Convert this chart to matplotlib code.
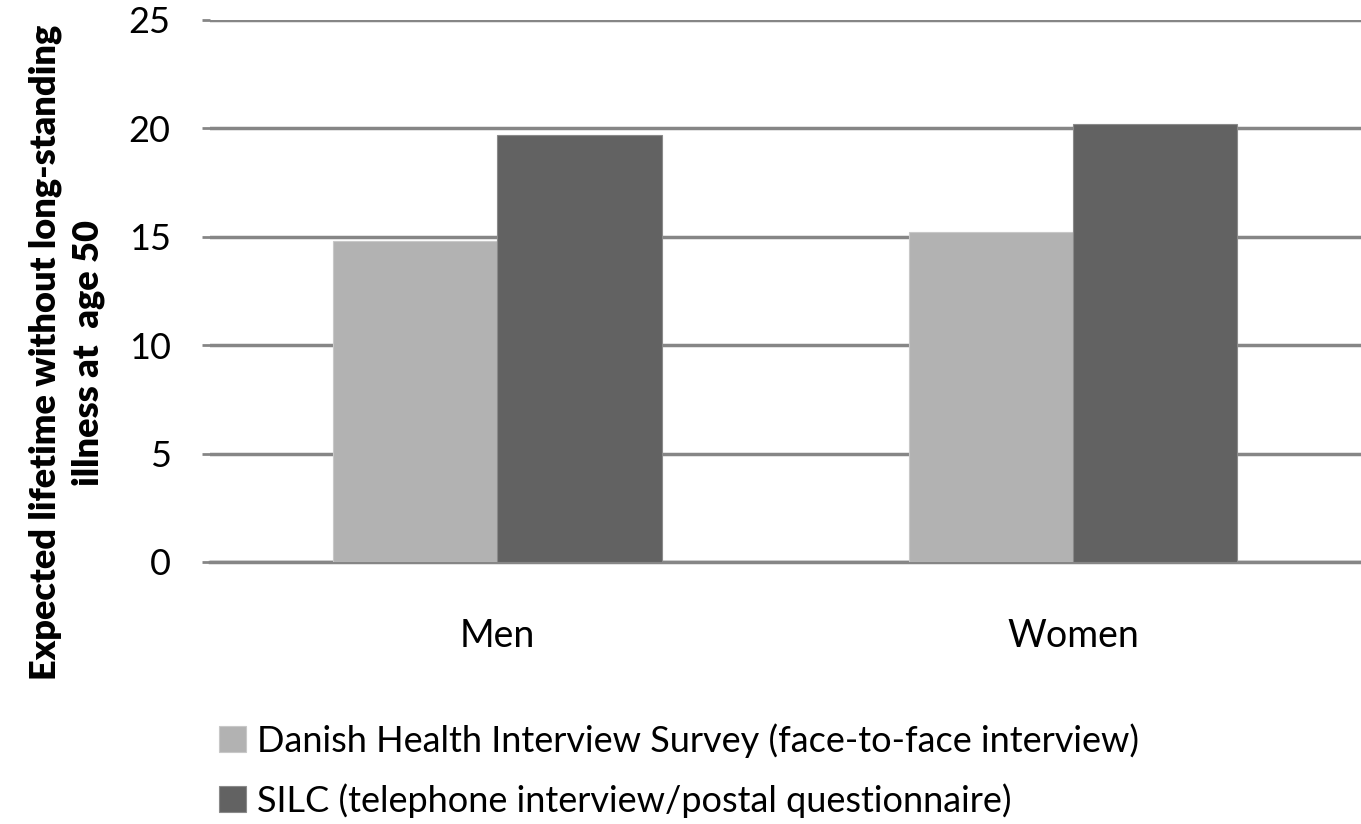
import numpy as np
import matplotlib.pyplot as plt

categories = ['Men', 'Women']
dhis = [14.8, 15.2]
silc = [19.7, 20.2]
series_labels = ['Danish Health Interview Survey (face-to-face interview)',
                 'SILC (telephone interview/postal questionnaire)']
colors = ['#b2b2b2', '#626262']

plt.rcParams['font.family'] = ['Lato', 'DejaVu Sans']

fig = plt.figure(figsize=(13.61, 8.24), dpi=100)
ax = fig.add_axes([0.154, 0.318, 0.846, 0.658])

x = np.arange(len(categories))
w = 0.285
b1 = ax.bar(x - w/2, dhis, w, color=colors[0], edgecolor='#c8c8c8', linewidth=0.8, zorder=3)
b2 = ax.bar(x + w/2, silc, w, color=colors[1], edgecolor='#8a8a8a', linewidth=0.8, zorder=3)

ax.set_ylim(0, 25)
ax.set_xlim(-0.5, 1.5)
ax.set_yticks(np.arange(0, 26, 5))
ax.yaxis.grid(True, color='#868686', linewidth=2.5, zorder=0)
ax.set_axisbelow(True)
for s in ['top', 'right', 'left']:
    ax.spines[s].set_visible(False)
ax.spines['bottom'].set_color('#868686')
ax.spines['bottom'].set_linewidth(2.5)
ax.set_xticks(x)
ax.set_xticklabels(categories, fontsize=27)
ax.tick_params(axis='x', length=0, pad=40)
ax.tick_params(axis='y', labelsize=26, length=6, width=2, color='#868686', pad=22)

fig.text(0.049, 0.572, 'Expected lifetime without long-standing\nillness at  age 50',
         rotation=90, ha='center', va='center', fontsize=26, fontweight='heavy',
         linespacing=1.35)

fig.legend([b1, b2], series_labels, loc='upper left', bbox_to_anchor=(0.150, 0.140),
           frameon=False, fontsize=26, handlelength=0.75, handleheight=0.75,
           handletextpad=0.3, labelspacing=0.7, borderaxespad=0)

fig.savefig('out.png', dpi=100)
